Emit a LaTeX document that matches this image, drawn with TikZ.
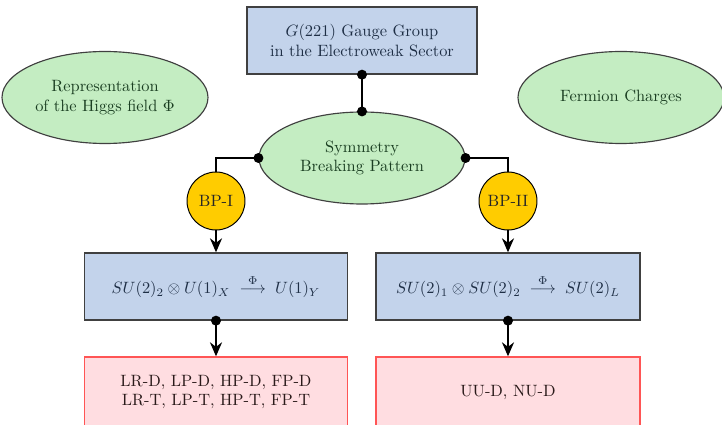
\documentclass[tikz,border=0pt]{standalone}
\usepackage{amsmath}
\usetikzlibrary{shapes.geometric,arrows.meta}
\newcommand\pxu{0.61pt}
\definecolor{boxblue}{HTML}{C3D3EB}
\definecolor{ellgreen}{HTML}{C4EDC2}
\definecolor{bpyellow}{HTML}{FFCC00}
\definecolor{resred}{HTML}{FFDDE1}
\definecolor{resborder}{HTML}{FF5555}
\definecolor{bluetext}{HTML}{1E2E45}
\definecolor{greentext}{HTML}{1B3F22}
\definecolor{redtext}{HTML}{2A1A1A}
\tikzset{
  groupbox/.style={rectangle, draw=black!75, line width=0.8pt, fill=boxblue, text=bluetext, align=center, inner sep=0pt},
  ellbox/.style={ellipse, draw=black!75, line width=0.7pt, fill=ellgreen, text=greentext, align=center, inner sep=0pt, minimum width=206*\pxu, minimum height=92*\pxu},
  bpcircle/.style={circle, draw=black, line width=0.6pt, fill=bpyellow, text=black!85, inner sep=0pt, minimum size=58*\pxu},
  resbox/.style={rectangle, draw=resborder, line width=0.8pt, fill=resred, text=redtext, align=center, inner sep=0pt},
  conn/.style={line width=1.2pt, black},
  arr/.style={-{Stealth[length=14*\pxu, width=12*\pxu]}},
  jdot/.style={fill=black},
}
\begin{document}
\begin{tikzpicture}[x=\pxu, y=-\pxu]
\useasboundingbox (0,0) rectangle (722,425);
\node[groupbox, minimum width=230*\pxu, minimum height=67*\pxu] (top) at (362,40.5) {$G(221)$ Gauge Group\\in the Electroweak Sector};
\node[ellbox] (higgs) at (105,97.5) {Representation\\of the Higgs field $\Phi$};
\node[ellbox] (ferm) at (621,97.5) {Fermion Charges};
\node[ellbox] (sbp) at (362,158) {Symmetry\\Breaking Pattern};
\node[bpcircle] (bp1) at (216,201) {BP-I};
\node[bpcircle] (bp2) at (508,201) {BP-II};
\node[groupbox, minimum width=263*\pxu, minimum height=67*\pxu] (g1) at (216,286.5) {$SU(2)_2\otimes U(1)_X\;\stackrel{\Phi}{\longrightarrow}\;U(1)_Y$};
\node[groupbox, minimum width=264*\pxu, minimum height=67*\pxu] (g2) at (508,286.5) {$SU(2)_1\otimes SU(2)_2\;\stackrel{\Phi}{\longrightarrow}\;SU(2)_L$};
\node[resbox, minimum width=263*\pxu, minimum height=70*\pxu] (r1) at (216,392) {LR-D, LP-D, HP-D, FP-D\\LR-T, LP-T, HP-T, FP-T};
\node[resbox, minimum width=264*\pxu, minimum height=70*\pxu] (r2) at (508,392) {UU-D, NU-D};
\draw[conn] (top.south) -- (sbp.north);
\draw[conn] (sbp.west) -| (bp1.north);
\draw[conn] (sbp.east) -| (bp2.north);
\draw[conn, arr] (bp1.south) -- (g1.north);
\draw[conn, arr] (bp2.south) -- (g2.north);
\draw[conn, arr] (g1.south) -- (r1.north);
\draw[conn, arr] (g2.south) -- (r2.north);
\foreach \a in {top.south, sbp.north, sbp.west, sbp.east, g1.south, g2.south}
  \fill[jdot] (\a) circle (5*\pxu);
\end{tikzpicture}
\end{document}
